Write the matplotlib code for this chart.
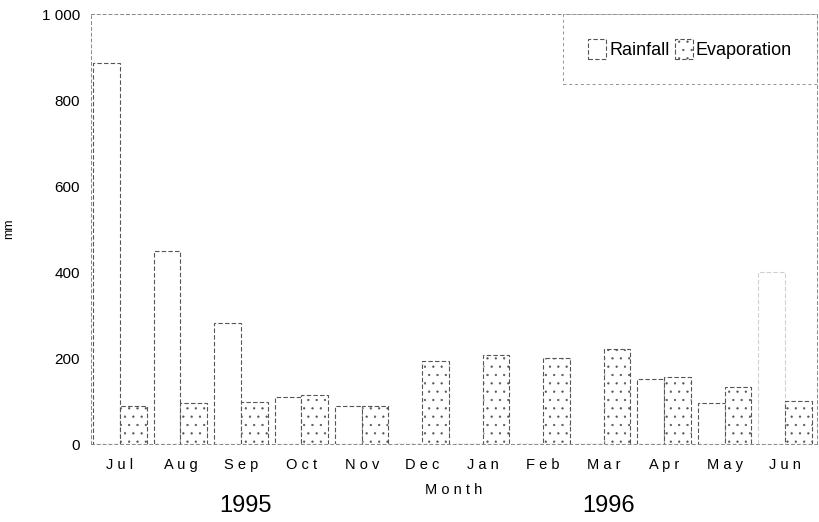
import numpy as np
import matplotlib
matplotlib.use("Agg")
import matplotlib.pyplot as plt
import matplotlib.transforms as mtransforms

# ── Data ──────────────────────────────────────────────────────────────────────
months      = ["Jul", "Aug", "Sep", "Oct", "Nov", "Dec",
               "Jan", "Feb", "Mar", "Apr", "May", "Jun"]
rainfall    = [885, 450, 282, 110, 88, 0, 0, 0, 0, 152, 95, 400]
evaporation = [88, 95, 97, 114, 89, 194, 207, 199, 220, 155, 133, 101]
years       = ["1995", "1996"]
year_pos    = [2.07, 8.08]
y_ticks     = [0, 200, 400, 600, 800, 1000]

plt.rcParams["font.family"] = ["Liberation Sans", "DejaVu Sans"]
plt.rcParams["hatch.linewidth"] = 0.4
plt.rcParams["hatch.color"] = "#555555"

fig = plt.figure(figsize=(8.19, 5.22), dpi=100)
ax = fig.add_axes([91 / 819, 1 - 444 / 522, 726 / 819, 430 / 522])

x = np.arange(len(months))
w = 0.44
edge = "#555555"

rain_bars = ax.bar(x - w / 2, rainfall, w, facecolor="white",
                   edgecolor=edge, linewidth=0.8, linestyle=(0, (4, 2)),
                   label="Rainfall")
# the June rainfall bar is barely visible in the scan
rain_bars[-1].set_edgecolor("#d0d0d0")
ax.bar(x + w / 2, evaporation, w, facecolor="white",
       edgecolor=edge, linewidth=0.8, linestyle=(0, (4, 2)),
       hatch="..", label="Evaporation")

ax.set_xlim(-0.48, 11.53)
ax.set_ylim(0, 1000)
ax.set_xticks(x)
ax.set_xticklabels([" ".join(m) for m in months], fontsize=10.5)
ax.set_yticks(y_ticks)
ax.set_yticklabels([f"{v:,}".replace(",", " ") for v in y_ticks], fontsize=11)
ax.tick_params(length=0, pad=8)
ax.tick_params(axis="x", pad=10)

ax.set_xlabel("M o n t h", fontsize=10.5, labelpad=8)
ax.set_ylabel("mm", fontsize=9)
ax.yaxis.set_label_coords(-(91 - 15) / 726, 0.5)

for s in ax.spines.values():
    s.set_linestyle((0, (3, 3)))
    s.set_linewidth(0.7)
    s.set_color("#888888")

trans = mtransforms.blended_transform_factory(ax.transData, fig.transFigure)
for label, pos in zip(years, year_pos):
    ax.text(pos, 1 - 506 / 522, label, transform=trans, fontsize=17,
            ha="center", va="center")

leg = ax.legend(loc="upper right", ncol=2, fontsize=13, frameon=True,
                fancybox=False, borderaxespad=0, handlelength=1.0,
                handleheight=1.3, handletextpad=0.15, columnspacing=0.3,
                borderpad=1.4)
leg.get_frame().set_linestyle((0, (3, 3)))
leg.get_frame().set_edgecolor("#777777")
leg.get_frame().set_linewidth(0.7)

fig.savefig("out.png", dpi=100)
